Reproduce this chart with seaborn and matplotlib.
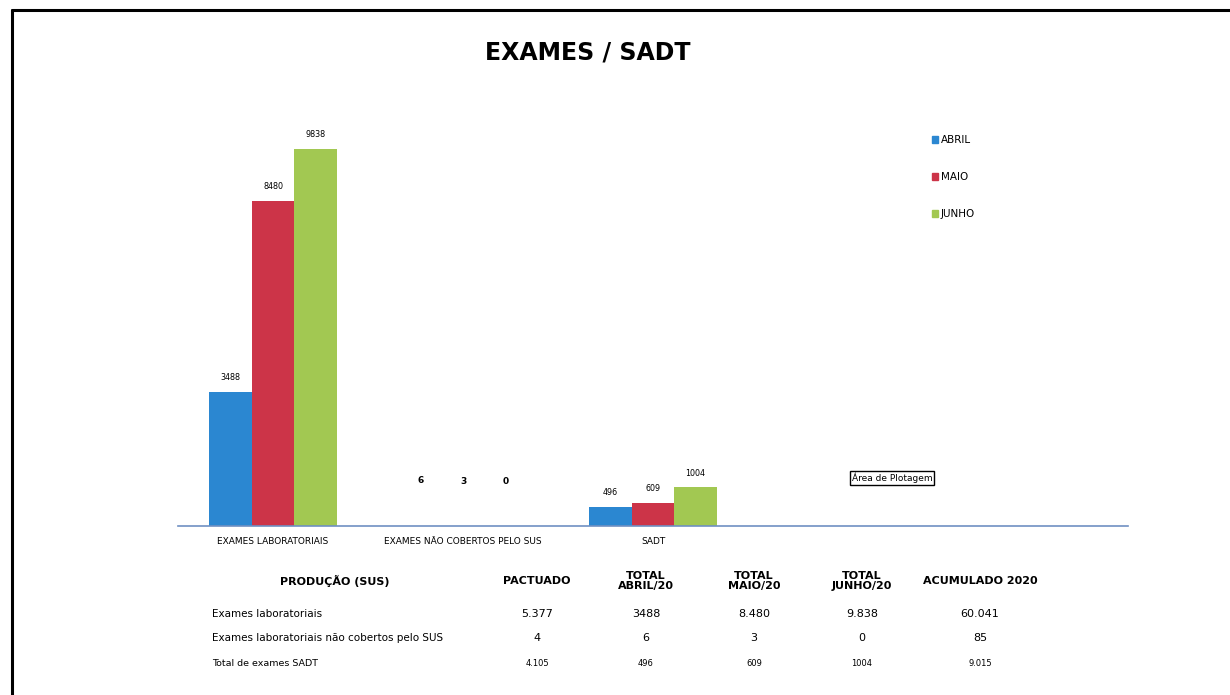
#!/usr/bin/env python
# -*- coding: utf-8 -*-

import pandas as pd
import matplotlib
matplotlib.use('Agg')
from matplotlib import pyplot as plt
from matplotlib.lines import Line2D
import seaborn as sns

# Chart data
categories = ['EXAMES LABORATORIAIS', 'EXAMES NÃO COBERTOS PELO SUS', 'SADT']
months = ['ABRIL', 'MAIO', 'JUNHO']
abril = [3488, 6, 496]
maio = [8480, 3, 609]
junho = [9838, 0, 1004]
month_colors = ['#2b87d1', '#cc3448', '#a2c852']

# Table data
table_header = ['PRODUÇÃO (SUS)', 'PACTUADO', 'TOTAL\nABRIL/20', 'TOTAL\nMAIO/20',
                'TOTAL\nJUNHO/20', 'ACUMULADO 2020']
row_labels = ['Exames laboratoriais', 'Exames laboratoriais não cobertos pelo SUS',
              'Total de exames SADT']
pactuado = ['5.377', '4', '4.105']
total_abril = ['3488', '6', '496']
total_maio = ['8.480', '3', '609']
total_junho = ['9.838', '0', '1004']
acumulado = ['60.041', '85', '9.015']


class Constants:
    W = 1230
    H = 695
    DPI = 100
    NARROW = ['Liberation Sans Narrow', 'DejaVu Sans']


def fx(px):
    return px / Constants.W


def fy(py):
    return 1 - py / Constants.H


def main():
    sns.set_style('white')
    plt.rcParams['font.family'] = ['DejaVu Sans']
    plt.rcParams['text.color'] = 'black'
    plt.rcParams['xtick.color'] = 'black'

    df = pd.DataFrame({
        'categoria': categories * 3,
        'mes': [m for m in months for _ in categories],
        'valor': abril + maio + junho,
    })

    fig = plt.figure(figsize=(Constants.W / Constants.DPI, Constants.H / Constants.DPI),
                     dpi=Constants.DPI)
    fig.patch.set_facecolor('white')

    ax = fig.add_axes([fx(178), fy(526), fx(1128) - fx(178), fy(104) - fy(526)])
    sns.barplot(data=df, x='categoria', y='valor', hue='mes', order=categories,
                hue_order=months, palette=month_colors, width=0.67, saturation=1,
                linewidth=0, legend=False, ax=ax)
    ax.set_xlim(-0.5, 4.5)
    ax.set_ylim(0, 11000)
    ax.set_xlabel('')
    ax.set_ylabel('')
    ax.set_yticks([])
    for s in ['top', 'right', 'left']:
        ax.spines[s].set_visible(False)
    ax.spines['bottom'].set_color('#6f90c2')
    ax.spines['bottom'].set_linewidth(1.2)
    ax.set_xticks(range(len(categories)))
    ax.set_xticklabels(categories, family=Constants.NARROW, fontsize=6.5)
    ax.tick_params(axis='x', length=0, pad=8)

    # value labels above bars (Excel put the tiny ones higher up)
    for patch in ax.patches:
        h = patch.get_height()
        if patch.get_width() == 0:
            continue
        small = h < 100
        ax.annotate('%d' % h, (patch.get_x() + patch.get_width() / 2, h),
                    xytext=(0, 29 if small else 7), textcoords='offset points',
                    ha='center', va='bottom', fontsize=6.5 if small else 5.8,
                    fontweight='bold' if small else 'normal', family=Constants.NARROW)

    # legend
    handles = [plt.Rectangle((0, 0), 1, 1, color=c) for c in month_colors]
    fig.legend(handles, months, loc='upper left', bbox_to_anchor=(fx(928), fy(131)),
               frameon=False, fontsize=7.5, labelspacing=2.6, handlelength=0.6,
               handleheight=0.6, handletextpad=0.25, borderaxespad=0)

    # title
    fig.text(fx(588), fy(52), 'EXAMES / SADT', ha='center', va='center', fontsize=17,
             fontweight='bold', family=Constants.NARROW)

    # tooltip left over from Excel
    fig.text(fx(892), fy(478), 'Área de Plotagem', ha='center', va='center', fontsize=6.5,
             bbox=dict(boxstyle='square,pad=0.15', facecolor='white', edgecolor='black', lw=1))

    # table under the chart
    col_x = [335, 537, 646, 754, 862, 980]
    for x, head in zip(col_x, table_header):
        fig.text(fx(x), fy(581), head, ha='center', va='center', fontsize=8,
                 fontweight='bold', linespacing=1.05)
    row_y = [614, 638, 663]
    columns = [pactuado, total_abril, total_maio, total_junho, acumulado]
    for i, label in enumerate(row_labels):
        size = 7.5 if i < 2 else 6.8
        fig.text(fx(212), fy(row_y[i]), label, ha='left', va='center', fontsize=size)
        for x, col in zip(col_x[1:], columns):
            fig.text(fx(x), fy(row_y[i]), col[i], ha='center', va='center',
                     fontsize=8 if i < 2 else 6)

    # page border (top and left)
    fig.add_artist(Line2D([fx(12), 1], [fy(10), fy(10)], color='black', lw=2.2))
    fig.add_artist(Line2D([fx(12), fx(12)], [fy(10), 0], color='black', lw=2.2))

    fig.savefig('out.png', dpi=Constants.DPI)


if __name__ == '__main__':
    main()
